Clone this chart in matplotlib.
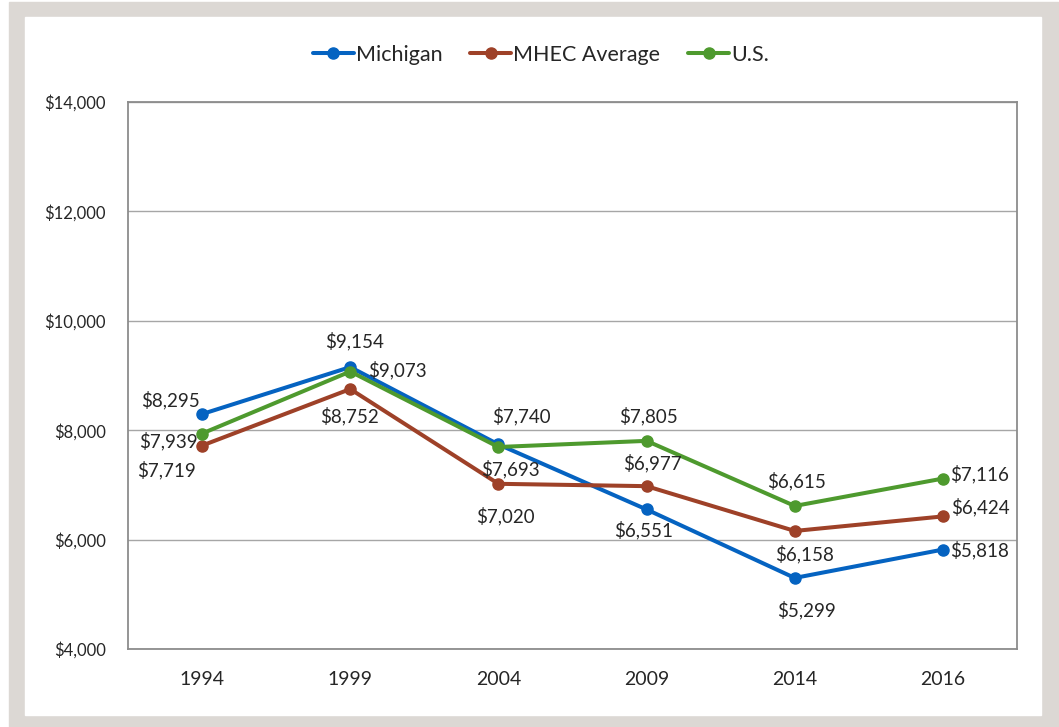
import numpy as np
import matplotlib
matplotlib.use("Agg")
import matplotlib.pyplot as plt
from matplotlib.patches import Rectangle
from matplotlib.ticker import FuncFormatter

plt.rcParams["font.family"] = ["Lato", "DejaVu Sans"]

# ---------------------------------------------------------------------------
# Data
# ---------------------------------------------------------------------------
years = ["1994", "1999", "2004", "2009", "2014", "2016"]
michigan = [8295, 9154, 7740, 6551, 5299, 5818]
mhec_avg = [7719, 8752, 7020, 6977, 6158, 6424]
us = [7939, 9073, 7693, 7805, 6615, 7116]

# label offsets (pixels, x right / y down) for each point
michigan_off = [(-32, -14), (4, -26), (23, -28), (-3, 21), (12, 32), (37, 1)]
mhec_off = [(-36, 24), (-1, 27), (7, 32), (6, -23), (10, 23), (37, -9)]
us_off = [(-34, 8), (47, -1), (12, 22), (2, -25), (2, -25), (37, -4)]

W, H = 1059, 727
fig = plt.figure(figsize=(W / 100, H / 100), dpi=100)

# gray frame around the chart
fig.patches.append(Rectangle((9 / W, 0), (W - 9) / W, (H - 2) / H,
                             transform=fig.transFigure, color="#dcd8d4", zorder=-2))
fig.patches.append(Rectangle((25 / W, (H - 715) / H), (1041 - 25) / W, (715 - 17) / H,
                             transform=fig.transFigure, color="white", zorder=-1))

ax = fig.add_axes([128 / W, (H - 649) / H, (1017 - 128) / W, (649 - 102) / H])
x = np.arange(len(years))

series = [
    ("Michigan", michigan, "#0563c1", michigan_off),
    ("MHEC Average", mhec_avg, "#9e4128", mhec_off),
    ("U.S.", us, "#4e9a2e", us_off),
]

for name, vals, color, offs in series:
    ax.plot(x, vals, color=color, linewidth=2.9, marker="o", markersize=8,
            label=name, solid_capstyle="round")
    for xi, v, (dx, dy) in zip(x, vals, offs):
        ax.annotate(f"${v:,}", (xi, v), xytext=(dx * 0.72, -dy * 0.72),
                    textcoords="offset points", ha="center", va="center",
                    fontsize=13.5, color="#262626")

ax.set_xlim(-0.5, len(years) - 0.5)
ax.set_ylim(4000, 14000)
ax.set_yticks(np.arange(4000, 14001, 2000))
ax.yaxis.set_major_formatter(FuncFormatter(lambda v, p: f"${v:,.0f}"))
ax.set_xticks(x)
ax.set_xticklabels(years)
ax.tick_params(axis="y", length=0, pad=16, labelsize=12, labelcolor="#262626")
ax.tick_params(axis="x", length=0, pad=16, labelsize=14, labelcolor="#262626")
ax.grid(True, axis="y", color="#a6a6a6", linewidth=1.0)
ax.set_axisbelow(True)
for sp in ax.spines.values():
    sp.set_color("#8c8c8c")
    sp.set_linewidth(1.3)

fig.legend(loc="center", bbox_to_anchor=(541 / W, 1 - 55 / H), ncol=3,
           frameon=False, fontsize=15.5, handlelength=1.9, handletextpad=0.1,
           columnspacing=1.3, labelcolor="#262626")

plt.savefig("out.png", dpi=100)
plt.close()
